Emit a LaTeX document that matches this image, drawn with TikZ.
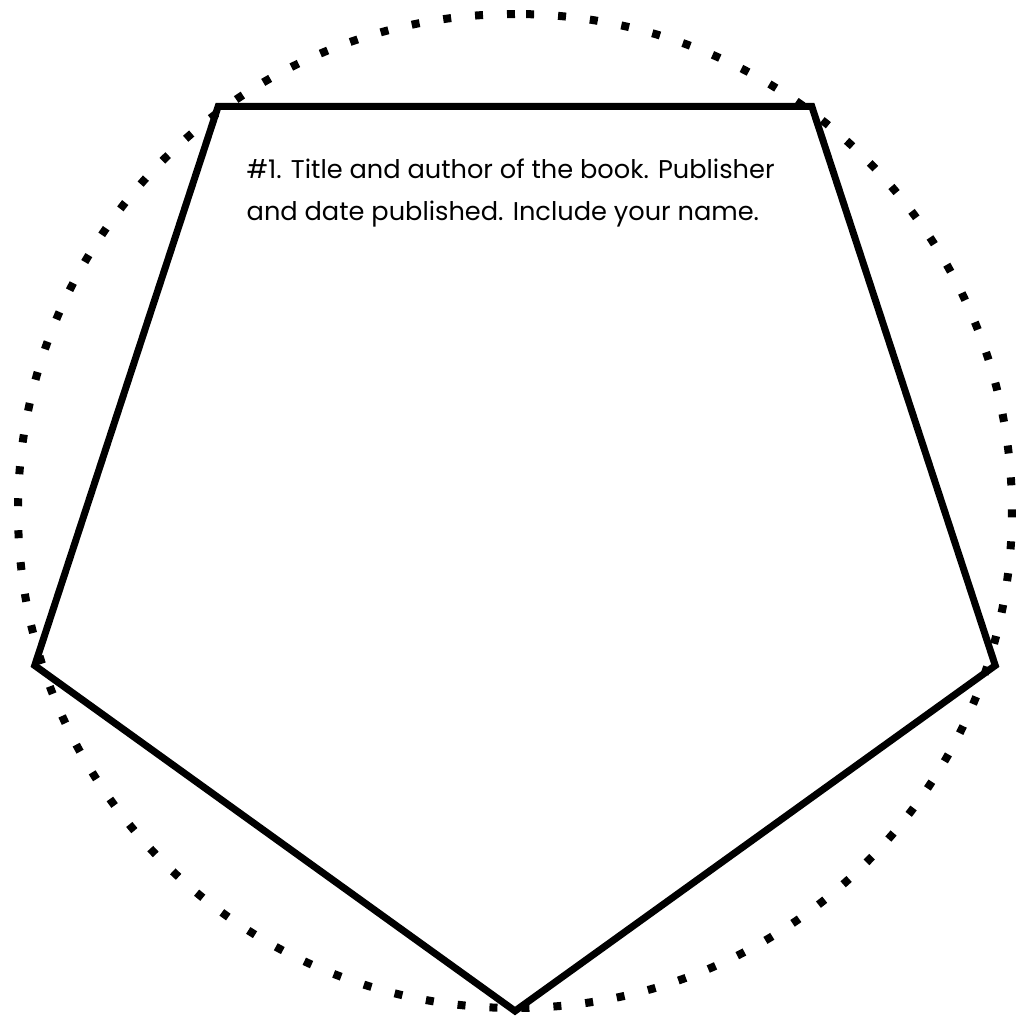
\documentclass[tikz,border=0pt]{standalone}
\usepackage{fontspec}
\setmainfont{Poppins}
\usetikzlibrary{positioning}

\begin{document}
\begin{tikzpicture}
    \useasboundingbox (-5.15,-5.10) rectangle (5.06,5.11);
    % gepunkteter Kreis
    \draw[line width=0.08cm, dash pattern=on 0.08cm off 0.24cm]
      (90:4.97) arc[start angle=90, end angle=450, radius=4.97];
    % Fuenfeck
    \foreach \a [count=\i] in {126,54,-18,-90,198}{
      \coordinate (p\i) at (\a:5.05 and 5.0);
    }
    \draw[line width=0.07cm] (p1) -- (p2) -- (p3) -- (p4) -- (p5) -- cycle;
    % Text oben
    \node[anchor=north west, align=left, inner sep=0pt,
      font=\fontsize{7.3}{12}\selectfont] (info) at (-2.69,3.53)
      {\#1. Title and author of the book. Publisher\\and date published. Include your name.};
  \end{tikzpicture}
\end{document}
